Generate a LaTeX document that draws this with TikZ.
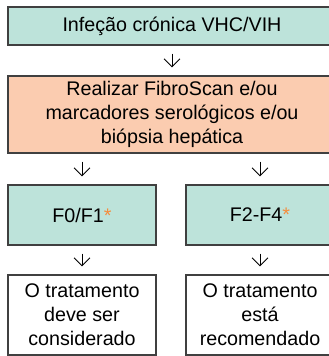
\documentclass[tikz,border=0pt]{standalone}
\usepackage{fontspec}
\setmainfont{Liberation Sans}
\usetikzlibrary{arrows.meta}
\definecolor{tealfill}{RGB}{189,227,218}
\definecolor{salmonfill}{RGB}{251,204,176}
\definecolor{starorange}{RGB}{245,140,60}
\tikzset{
	box/.style={draw=black!75, line width=1.1pt, align=center, inner sep=0pt,
		font=\fontsize{19.7}{24}\selectfont},
	arr/.style={-{Straight Barb[length=8pt,width=16pt]}, line width=0.9pt,
		shorten <=8pt, shorten >=8pt}
}
\newcommand{\redstar}{{\color{starorange}*}}

\begin{document}
\begin{tikzpicture}[x=1pt,y=-1pt]
		%%%%% START %%%%%
		\useasboundingbox (0,0) rectangle (329,356);
		\clip (0,0) rectangle (329,356);
		
		\node[box, fill=tealfill, minimum width=328, minimum height=38] (infec) at (172, 26) {Infeção crónica VHC/VIH};
		\node[box, fill=salmonfill, minimum width=328, minimum height=77] (fibro) at (172, 114.5)
			{Realizar FibroScan e/ou\\marcadores serológicos e/ou\\biópsia hepática};
		
		\node[box, fill=tealfill, minimum width=148, minimum height=60] (fzero) at (82, 215) {F0/F1\redstar};
		\node[box, fill=tealfill, minimum width=148, minimum height=60] (ftwo) at (260, 215) {F2-F4\redstar};
		
		\node[box, fill=white, minimum width=148, minimum height=80] (trata) at (82, 315)
			{O tratamento\\deve ser\\considerado};
		\node[box, fill=white, minimum width=148, minimum height=80] (recom) at (260, 315)
			{O tratamento\\está\\recomendado};
		
		\draw[arr] (infec) -- (fibro);
		\draw[arr] (fibro.south -| fzero) -- (fzero);
		\draw[arr] (fibro.south -| ftwo) -- (ftwo);
		\draw[arr] (fzero) -- (trata);
		\draw[arr] (ftwo) -- (recom);
		%%%%% END %%%%%
	\end{tikzpicture}
\end{document}
